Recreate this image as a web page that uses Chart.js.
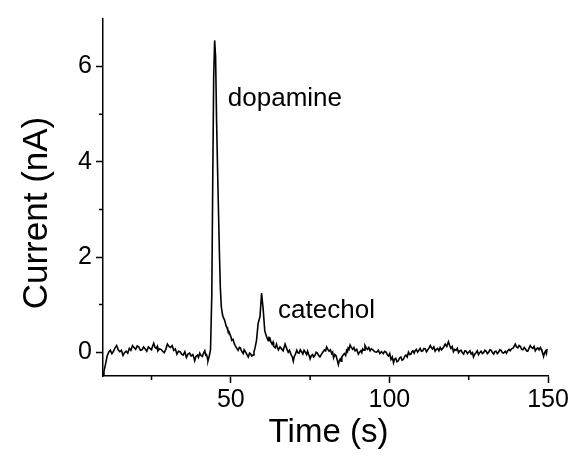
<!doctype html>
<html lang="en">
  <head>
    <meta charset="UTF-8" />
    <title>Dopamine / catechol</title>
    <script src="https://cdn.jsdelivr.net/npm/chart.js"></script>
    <style>
      html, body { margin: 0; padding: 0; background: #fff; }
      #wrap { width: 577px; height: 472px; position: relative; }
    </style>
  </head>
  <body>
    <div id="wrap"><canvas id="trace"></canvas></div>
    <script>
      // time (s) and current (nA)
      const times = [
        9.7, 10, 10.5, 11, 11.5, 12, 12.5, 13, 13.5, 14,
        14.5, 15, 15.5, 16, 16.5, 17, 17.5, 18, 18.5, 19,
        19.5, 20, 20.5, 21, 21.5, 22, 22.5, 23, 23.5, 24,
        24.5, 25, 25.3, 25.7, 26.1, 26.5, 26.8, 27, 27.5, 28,
        28.5, 29, 29.5, 30, 30.5, 31, 31.5, 32, 32.5, 33,
        33.5, 34, 34.5, 35, 35.5, 36, 36.5, 37, 37.5, 38,
        38.3, 38.6, 39, 39.5, 39.8, 40.2, 40.6, 41, 41.4, 41.8,
        42.1, 42.3, 42.6, 42.8, 43.2, 43.6, 44.0, 44.3, 44.6, 44.9,
        45.2, 45.5, 45.8, 46.1, 46.4, 46.7, 47.0, 47.4, 47.7, 48.0,
        48.3, 48.5, 48.8, 49.0, 49.4, 49.7, 50.0, 50.3, 50.7, 51.1,
        51.5, 51.9, 52.3, 52.7, 53, 53.4, 53.9, 54.2, 54.5, 55.0,
        55.5, 55.9, 56.2, 56.6, 57.0, 57.3, 57.6, 58.1, 58.6, 59.2,
        59.7, 60.2, 60.7, 61.0, 61.3, 61.8, 62.0, 62.3, 62.6, 63,
        63.3, 63.5, 64.0, 64.4, 64.7, 65, 65.5, 66, 66.5, 67.1,
        67.6, 68.1, 68.5, 69, 69.4, 69.7, 70.0, 70.3, 70.8, 71.1,
        71.5, 71.9, 72.3, 72.7, 73.1, 73.5, 73.9, 74.2, 74.5, 74.8,
        75.0, 75.4, 75.8, 76.1, 76.5, 76.9, 77.3, 77.7, 78.1, 78.6,
        79, 79.5, 79.9, 80.2, 80.6, 81, 81.4, 81.8, 82.1, 82.4,
        82.8, 83.2, 83.5, 83.9, 84.2, 84.5, 84.8, 85.0, 85.4, 85.8,
        86.2, 86.5, 86.8, 87.0, 87.3, 87.6, 88.0, 88.4, 88.8, 89.2,
        89.7, 90.2, 90.6, 91, 91.3, 91.6, 92.0, 92.3, 92.7, 93.1,
        93.5, 93.9, 94.3, 94.8, 95.4, 96.0, 96.5, 97, 97.5, 98.1,
        98.5, 99, 99.3, 99.7, 100.1, 100.5, 100.9, 101.3, 101.6, 102,
        102.4, 102.8, 103.2, 103.6, 104.0, 104.4, 104.8, 105.2, 105.6, 106.0,
        106.4, 106.8, 107.1, 107.4, 107.8, 108.1, 108.5, 108.9, 109.3, 109.7,
        110.1, 110.5, 110.9, 111.3, 111.7, 112.1, 112.5, 112.9, 113.2, 113.6,
        114.0, 114.4, 114.8, 115.2, 115.6, 116.0, 116.4, 116.8, 117.2, 117.6,
        118.1, 118.6, 119.0, 119.4, 119.8, 120.2, 120.6, 121.0, 121.4, 121.8,
        122.2, 122.6, 123.0, 123.4, 123.8, 124.2, 124.6, 125.0, 125.4, 125.8,
        126.2, 126.5, 126.9, 127.3, 127.7, 128.1, 128.5, 128.9, 129.3, 129.7,
        130.1, 130.5, 130.9, 131.3, 131.7, 132.1, 132.5, 132.9, 133.2, 133.6,
        134.0, 134.4, 134.8, 135.2, 135.6, 136.0, 136.5, 136.9, 137.3, 137.7,
        138.1, 138.5, 138.9, 139.3, 139.7, 140.1, 140.5, 140.9, 141.3, 141.7,
        142.1, 142.5, 142.9, 143.2, 143.6, 144.0, 144.4, 144.8, 145.2, 145.6,
        146.0, 146.4, 146.8, 147.2, 147.6, 147.9, 148.1, 148.4, 148.6, 148.9,
        149.2, 149.5, 149.7,
      ];
      const current = [
        -0.48, -0.4, -0.25, -0.08, 0.0, 0.04, -0.03, 0.02, 0.09, 0.14,
        0.05, 0.01, 0.04, -0.07, -0.01, 0.02, -0.02, 0.08, 0.04, 0.14,
        0.1, 0.06, 0.13, 0.11, 0.04, 0.05, 0.11, 0.07, 0.02, 0.11,
        0.08, 0.05, 0.12, 0.19, 0.1, 0.08, 0.12, 0.03, 0.07, 0.06,
        0.02, -0.01, 0.06, 0.17, 0.12, 0.1, 0.14, 0.04, 0.07, -0.04,
        0.02, 0.01, -0.04, -0.06, 0.01, -0.11, -0.04, -0.02, -0.08, -0.05,
        -0.1, -0.18, -0.09, -0.06, -0.11, -0.02, -0.07, -0.09, -0.02, 0.03,
        -0.06, -0.05, -0.11, -0.18, -0.08, 0.05, 1.2, 3.6, 5.8, 6.55,
        6.2, 4.9, 3.9, 3.0, 2.1, 1.35, 0.95, 0.78, 0.72, 0.68,
        0.61, 0.55, 0.52, 0.47, 0.43, 0.38, 0.33, 0.25, 0.27, 0.18,
        0.12, 0.08, 0.04, 0.1, 0.09, 0.02, -0.03, 0.05, 0.02, -0.04,
        -0.1, -0.02, -0.03, -0.08, -0.06, 0.01, 0.08, 0.25, 0.6, 0.75,
        1.24, 0.9, 0.45, 0.38, 0.32, 0.24, 0.31, 0.3, 0.22, 0.17,
        0.21, 0.12, 0.09, 0.17, 0.1, 0.05, 0.11, 0.07, 0.03, 0.17,
        0.08, 0.0, 0.04, -0.05, -0.1, -0.19, -0.09, -0.05, 0.04, -0.01,
        -0.02, 0.05, 0.01, -0.04, 0.04, 0.0, -0.05, 0.02, -0.04, -0.09,
        -0.14, -0.07, -0.05, -0.1, -0.07, 0.0, -0.02, -0.07, -0.1, -0.04,
        0.0, 0.05, 0.03, 0.11, 0.06, 0.02, 0.05, -0.03, 0.0, -0.12,
        -0.05, -0.08, -0.15, -0.26, -0.18, -0.14, -0.19, -0.1, -0.06, -0.03,
        -0.07, 0.04, 0.01, 0.09, 0.06, 0.15, 0.1, 0.06, 0.1, 0.03,
        0.06, -0.04, 0.0, 0.03, -0.01, 0.07, 0.04, 0.14, 0.09, 0.06,
        0.1, 0.03, 0.07, 0.05, 0.01, 0.0, 0.04, -0.03, 0.01, -0.03,
        0.02, 0.0, -0.05, -0.08, -0.03, -0.15, -0.1, -0.22, -0.15, -0.13,
        -0.2, -0.18, -0.12, -0.1, -0.17, -0.15, -0.09, -0.06, -0.1, 0.0,
        -0.05, -0.04, 0.01, 0.03, -0.02, 0.03, 0.06, 0.0, 0.04, 0.08,
        0.02, 0.03, 0.08, 0.07, 0.01, 0.05, 0.09, 0.14, 0.1, 0.07,
        0.11, 0.02, 0.06, 0.08, 0.03, 0.1, 0.05, 0.08, 0.12, 0.17,
        0.12, 0.22, 0.14, 0.08, 0.12, 0.01, 0.06, 0.04, 0.08, -0.01,
        0.03, 0.04, -0.01, -0.04, 0.03, 0.02, -0.03, 0.0, 0.03, -0.04,
        -0.01, -0.1, -0.04, -0.01, 0.03, -0.05, -0.01, 0.02, -0.03, -0.01,
        0.04, 0.02, -0.03, 0.0, 0.05, 0.04, -0.01, -0.04, 0.01, 0.02,
        -0.03, 0.0, 0.05, 0.04, -0.01, -0.02, 0.02, -0.02, 0.03, 0.06,
        0.03, 0.07, 0.08, 0.12, 0.17, 0.11, 0.09, 0.14, 0.12, 0.06,
        0.05, 0.1, 0.07, 0.03, 0.02, 0.08, 0.14, 0.1, 0.08, 0.12,
        0.03, 0.07, 0.09, 0.05, 0.1, 0.06, 0.02, -0.03, -0.09, -0.02,
        0.02, -0.03, 0.07,
      ];

      const xTicks = [50, 100, 150];
      const xMinor = [25, 75, 125];
      const yTicks = [0, 2, 4, 6];
      const yMinor = [1, 3, 5];

      // peak labels: [text, time, current] of the label's left baseline
      const peakLabels = [
        ["dopamine", 49.05, 5.17],
        ["catechol", 64.9, 0.72],
      ];

      const FONT = "'Liberation Sans', Arial, sans-serif";

      const extras = {
        id: "extras",
        afterDraw(chart) {
          const { ctx, scales } = chart;
          const x = scales.x;
          const y = scales.y;
          const area = chart.chartArea;
          ctx.save();
          ctx.strokeStyle = "#000";
          ctx.lineWidth = 1.5;
          // minor ticks
          ctx.beginPath();
          xMinor.forEach((v) => {
            const px = x.getPixelForValue(v);
            ctx.moveTo(px, area.bottom);
            ctx.lineTo(px, area.bottom + 4);
          });
          yMinor.forEach((v) => {
            const py = y.getPixelForValue(v);
            ctx.moveTo(area.left, py);
            ctx.lineTo(area.left - 4, py);
          });
          ctx.stroke();

          ctx.fillStyle = "#000";
          ctx.font = "26px " + FONT;
          ctx.textAlign = "left";
          ctx.textBaseline = "alphabetic";
          peakLabels.forEach(([txt, t, c]) => {
            ctx.fillText(txt, x.getPixelForValue(t), y.getPixelForValue(c));
          });

          // axis titles
          ctx.textAlign = "center";
          ctx.font = "33px " + FONT;
          ctx.fillText("Time (s)", (area.left + area.right) / 2 + 3, 442);
          ctx.translate(47, 213);
          ctx.rotate(-Math.PI / 2);
          ctx.font = "35px " + FONT;
          ctx.fillText("Current (nA)", 0, 0);
          ctx.restore();
        },
      };

      const ctx = document.getElementById("trace").getContext("2d");
      const chart = new Chart(ctx, {
        type: "line",
        data: {
          datasets: [
            {
              data: times.map((t, i) => ({ x: t, y: current[i] })),
              borderColor: "#000",
              borderWidth: 1.6,
              pointRadius: 0,
              tension: 0,
              fill: false,
            },
          ],
        },
        options: {
          responsive: true,
          maintainAspectRatio: false,
          animation: false,
          events: [],
          layout: { padding: { left: 0, top: 15, right: 29, bottom: 0 } },
          plugins: {
            legend: { display: false },
            tooltip: { enabled: false },
          },
          scales: {
            x: {
              type: "linear",
              min: 9.7,
              max: 150,
              afterBuildTicks: (s) => {
                s.ticks = xTicks.map((v) => ({ value: v }));
              },
              afterFit: (s) => {
                s.height = 96;
              },
              border: { color: "#000", width: 1.5 },
              grid: {
                drawOnChartArea: false,
                color: "#000",
                tickLength: 7,
                tickWidth: 1.5,
              },
              ticks: {
                color: "#000",
                font: { family: FONT, size: 25 },
                padding: 2,
                maxRotation: 0,
              },
            },
            y: {
              min: -0.5,
              max: 7,
              afterBuildTicks: (s) => {
                s.ticks = yTicks.map((v) => ({ value: v }));
              },
              afterFit: (s) => {
                s.width = 103;
              },
              border: { color: "#000", width: 1.5 },
              grid: {
                drawOnChartArea: false,
                color: "#000",
                tickLength: 7,
                tickWidth: 1.5,
              },
              ticks: {
                color: "#000",
                font: { family: FONT, size: 25 },
                padding: 4,
              },
            },
          },
        },
        plugins: [extras],
      });
    </script>
  </body>
</html>
